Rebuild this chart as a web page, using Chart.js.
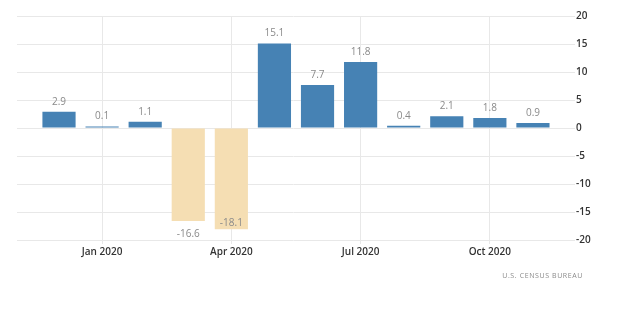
<!DOCTYPE html>
<html>
<head>
<meta charset="utf-8">
<style>
  html, body { margin: 0; padding: 0; background: #ffffff; }
  #wrap { width: 620px; height: 328px; position: relative; }
</style>
<script src="https://cdn.jsdelivr.net/npm/chart.js@4/dist/chart.umd.min.js"></script>
</head>
<body>
<div id="wrap"><canvas id="chart" width="620" height="328"></canvas></div>
<script>
// Monthly change, Dec 2019 – Nov 2020 (percent)
const months = ['Dec 2019', 'Jan 2020', 'Feb 2020', 'Mar 2020', 'Apr 2020', 'May 2020',
                'Jun 2020', 'Jul 2020', 'Aug 2020', 'Sep 2020', 'Oct 2020', 'Nov 2020'];
const values = [2.9, 0.1, 1.1, -16.6, -18.1, 15.1, 7.7, 11.8, 0.4, 2.1, 1.8, 0.9];

// Month positions that get a label on the time axis
const xTickIndex = [1, 4, 7, 10];
const xTickLabels = ['Jan 2020', 'Apr 2020', 'Jul 2020', 'Oct 2020'];

// Value axis ticks
const yTicks = [-20, -15, -10, -5, 0, 5, 10, 15, 20];

const sourceText = 'U.S. CENSUS BUREAU';

const UP = '#4682B4';
const DOWN = '#F5DEB3';
const GRID = '#e8e8e8';

const points = values.map((v, i) => ({ x: i, y: v }));

const valueLabels = {
  id: 'valueLabels',
  afterDatasetsDraw(chart) {
    const ctx = chart.ctx;
    const area = chart.chartArea;
    const meta = chart.getDatasetMeta(0);
    ctx.save();
    ctx.font = '10px "Open Sans", sans-serif';
    ctx.fillStyle = '#8a8a8a';
    ctx.textAlign = 'center';
    ctx.textBaseline = 'middle';
    meta.data.forEach((bar, i) => {
      const v = values[i];
      let y;
      if (v >= 0) {
        y = bar.y - 10;
      } else {
        y = bar.y + 13;
        if (y > area.bottom - 4) y = bar.y - 6;
      }
      ctx.fillText(v.toFixed(1), bar.x, y);
    });
    ctx.restore();
  }
};

const sourceNote = {
  id: 'sourceNote',
  afterDraw(chart) {
    const ctx = chart.ctx;
    ctx.save();
    ctx.font = '7px "Open Sans", sans-serif';
    ctx.fillStyle = '#8a8a8a';
    ctx.textAlign = 'right';
    ctx.textBaseline = 'middle';
    if ('letterSpacing' in ctx) ctx.letterSpacing = '0.6px';
    ctx.fillText(sourceText, 583, 276);
    ctx.restore();
  }
};

new Chart(document.getElementById('chart'), {
  type: 'bar',
  data: {
    datasets: [{
      data: points,
      backgroundColor: values.map(v => (v < 0 ? DOWN : UP)),
      borderWidth: 0,
      barPercentage: 0.77,
      categoryPercentage: 1,
      minBarLength: 1.5
    }]
  },
  options: {
    responsive: false,
    animation: false,
    events: [],
    layout: { padding: { left: 17, top: 16, right: 0, bottom: 0 } },
    plugins: { legend: { display: false }, tooltip: { enabled: false } },
    scales: {
      x: {
        type: 'linear',
        offset: false,
        min: -0.975,
        max: 11.86,
        afterFit(scale) { scale.height = 88; },
        afterBuildTicks(scale) {
          scale.ticks = xTickIndex.map(v => ({ value: v }));
        },
        grid: { offset: false, color: GRID, lineWidth: 1, drawTicks: true, tickLength: 4 },
        border: { display: false },
        ticks: {
          autoSkip: false,
          maxRotation: 0,
          padding: 2,
          color: '#333333',
          font: { family: '"Open Sans", sans-serif', size: 10, weight: '600' },
          callback(value) {
            const k = xTickIndex.indexOf(value);
            return k >= 0 ? xTickLabels[k] : '';
          }
        }
      },
      y: {
        position: 'right',
        min: -20,
        max: 20,
        afterFit(scale) { scale.width = 50; },
        afterBuildTicks(scale) {
          scale.ticks = yTicks.map(v => ({ value: v }));
        },
        grid: { color: GRID, lineWidth: 1, drawTicks: true, tickLength: 5 },
        border: { display: false },
        ticks: {
          padding: 1,
          color: '#333333',
          font: { family: '"Open Sans", sans-serif', size: 10, weight: '600' }
        }
      }
    }
  },
  plugins: [valueLabels, sourceNote]
});
</script>
</body>
</html>
